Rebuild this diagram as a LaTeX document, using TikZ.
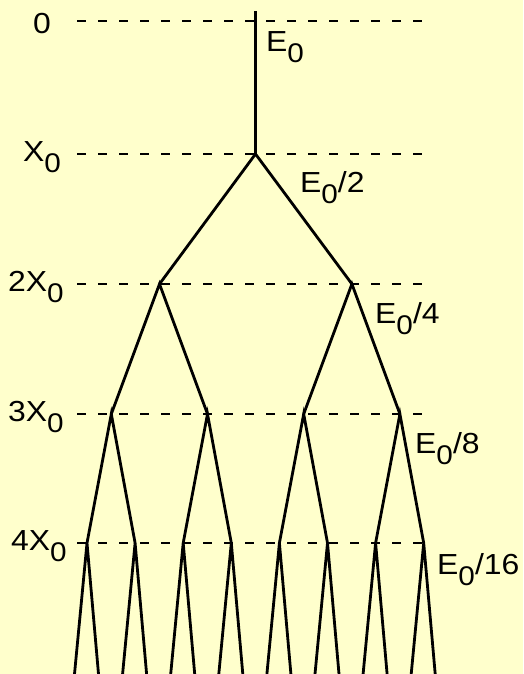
\documentclass[tikz,border=0pt]{standalone}
\usepackage{fontspec}
\setmainfont{Liberation Sans}[FakeStretch=1.1]
\newcommand{\lowsub}[1]{\raisebox{-11pt}{\fontsize{27pt}{27pt}\selectfont #1}}
\begin{document}
\begin{tikzpicture}[x=1pt,y=-1pt,
  branch/.style={line width=2.8pt, line cap=butt, line join=miter},
  level/.style={line width=2.8pt, dash pattern=on 9pt off 12pt},
  lbl/.style={inner sep=0pt, anchor=base west, font=\fontsize{29pt}{29pt}\selectfont}]
\fill[fill={rgb,255:red,255;green,255;blue,204}] (0,0) rectangle (523,674);
\useasboundingbox (0,0) rectangle (523,674);
% level lines
\foreach \yy in {21,154,284,414,543} \draw[level] (77,\yy) -- (430,\yy);
% left labels
\node[lbl] (t0) at (33,34) {0};
\node[lbl] (t1) at (23,161) {X\lowsub{0}};
\node[lbl] (t2) at (8,291) {2X\lowsub{0}};
\node[lbl] (t3) at (8,421) {3X\lowsub{0}};
\node[lbl] (t4) at (11,550) {4X\lowsub{0}};
% energy labels
\node[lbl] (e0) at (266,52) {E\lowsub{0}};
\node[lbl] (e1) at (300,192) {E\lowsub{0}/2};
\node[lbl] (e2) at (375,323) {E\lowsub{0}/4};
\node[lbl] (e3) at (415,453) {E\lowsub{0}/8};
\node[lbl] (e4) at (437,574) {E\lowsub{0}/16};
% tree points
\coordinate (top) at (255.5,11);
\coordinate (a) at (255.5,154);
\foreach \k in {0,1} \coordinate (b\k) at ({159.5+192.4*\k},284);
\foreach \j in {0,...,3} \coordinate (c\j) at ({111.3+96.2*\j},414);
\foreach \i in {0,...,7} {
  \coordinate (d\i) at ({87+48.1*\i},543);
  \coordinate (fL\i) at ({74.5+48.1*\i},674);
  \coordinate (fR\i) at ({98.5+48.1*\i},674);
}
% tree branches
\draw[branch] (top) -- (a);
\draw[branch] (b0) -- (a) -- (b1);
\foreach \k in {0,1} {
  \pgfmathtruncatemacro{\ca}{2*\k}
  \pgfmathtruncatemacro{\cb}{2*\k+1}
  \draw[branch] (c\ca) -- (b\k) -- (c\cb);
}
\foreach \j in {0,...,3} {
  \pgfmathtruncatemacro{\da}{2*\j}
  \pgfmathtruncatemacro{\db}{2*\j+1}
  \draw[branch] (d\da) -- (c\j) -- (d\db);
}
\foreach \i in {0,...,7} \draw[branch] (fL\i) -- (d\i) -- (fR\i);
\end{tikzpicture}
\end{document}
